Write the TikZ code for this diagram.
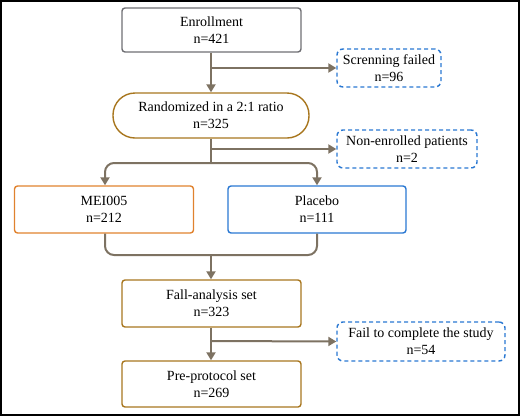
\documentclass[tikz,border=0pt]{standalone}
\usepackage{fontspec}
\setmainfont{Liberation Serif}
\usetikzlibrary{arrows.meta}

\definecolor{linkgray}{HTML}{7D7262}
\definecolor{boxgray}{HTML}{6E6E73}
\definecolor{boxgold}{HTML}{A8761E}
\definecolor{boxorange}{HTML}{E0822E}
\definecolor{boxblue}{HTML}{2A78D2}

\tikzset{
    stage/.style={draw, rectangle, rounded corners=3pt, line width=1.4pt,
                  align=center, inner sep=0pt,
                  font=\fontsize{14}{17}\selectfont},
    dropout/.style={stage, draw=boxblue, dashed, dash pattern=on 4pt off 3pt,
                    rounded corners=6pt},
    flow/.style={draw=linkgray, line width=2pt,
                 -{Triangle[length=8pt, width=9pt]}},
    merge/.style={draw=linkgray, line width=2pt, rounded corners=9pt}
}

\begin{document}
\begin{tikzpicture}[x=1pt, y=-1pt]

    \useasboundingbox (0,0) rectangle (520,416);
    \draw[black, line width=2pt] (1,1) rectangle (519,415);

    \node[  stage, 
            draw=boxgray, 
            minimum width=179pt, 
            minimum height=44pt] (enroll) at (211.5, 30) 
            {Enrollment\\n=421};

    \node[  dropout, 
            minimum width=104pt, 
            minimum height=38pt] (screen) at (389, 68) 
            {Screnning failed\\n=96};

    \node[  stage, 
            draw=boxgold, 
            rounded corners=22pt, 
            minimum width=196pt, 
            minimum height=45pt] (random) at (211, 115.5) 
            {Randomized in a 2:1 ratio\\n=325};

    \node[  dropout, 
            minimum width=140pt, 
            minimum height=38pt] (nonenr) at (407, 149) 
            {Non-enrolled patients\\n=2};

    \node[  stage, 
            draw=boxorange, 
            minimum width=179pt, 
            minimum height=47pt] (mei) at (104, 209.5) 
            {MEI005\\n=212};

    \node[  stage, 
            draw=boxblue, 
            minimum width=178pt, 
            minimum height=47pt] (placebo) at (317, 209.5) 
            {Placebo\\n=111};

    \node[  stage, 
            draw=boxgold, 
            minimum width=179pt, 
            minimum height=47pt] (fas) at (211.5, 303.5) 
            {Fall-analysis set\\n=323};

    \node[  dropout, 
            minimum width=168pt, 
            minimum height=39pt] (fail) at (421, 341.5) 
            {Fail to complete the study\\n=54};

    \node[  stage, 
            draw=boxgold, 
            minimum width=179pt, 
            minimum height=46pt] (pps) at (211.5, 384) 
            {Pre-protocol set\\n=269};

    \coordinate (eb) at (211, 68);
    \coordinate (rb) at (211, 149);
    \coordinate (rs) at (211, 163);
    \coordinate (mj) at (211, 255);
    \coordinate (fb) at (211, 341);

    \draw[flow] (enroll.south -| eb) -- (random.north -| eb);
    \draw[flow] (eb) -- (screen.west);

    \draw[merge] (random.south -| rs) -- (rs);
    \draw[flow] (rb) -- (nonenr.west);
    \draw[flow, rounded corners=9pt] (rs) -| (mei.north -| 105,0);
    \draw[flow, rounded corners=9pt] (rs) -| (placebo.north -| 317,0);

    \draw[merge] (mei.south -| 105,0) |- (mj);
    \draw[merge] (placebo.south -| 317,0) |- (mj);
    \draw[flow] (mj) -- (fas.north -| mj);

    \draw[flow] (fas.south -| fb) -- (pps.north -| fb);
    \draw[flow] (fb) -- (fail.west);

\end{tikzpicture}
\end{document}
